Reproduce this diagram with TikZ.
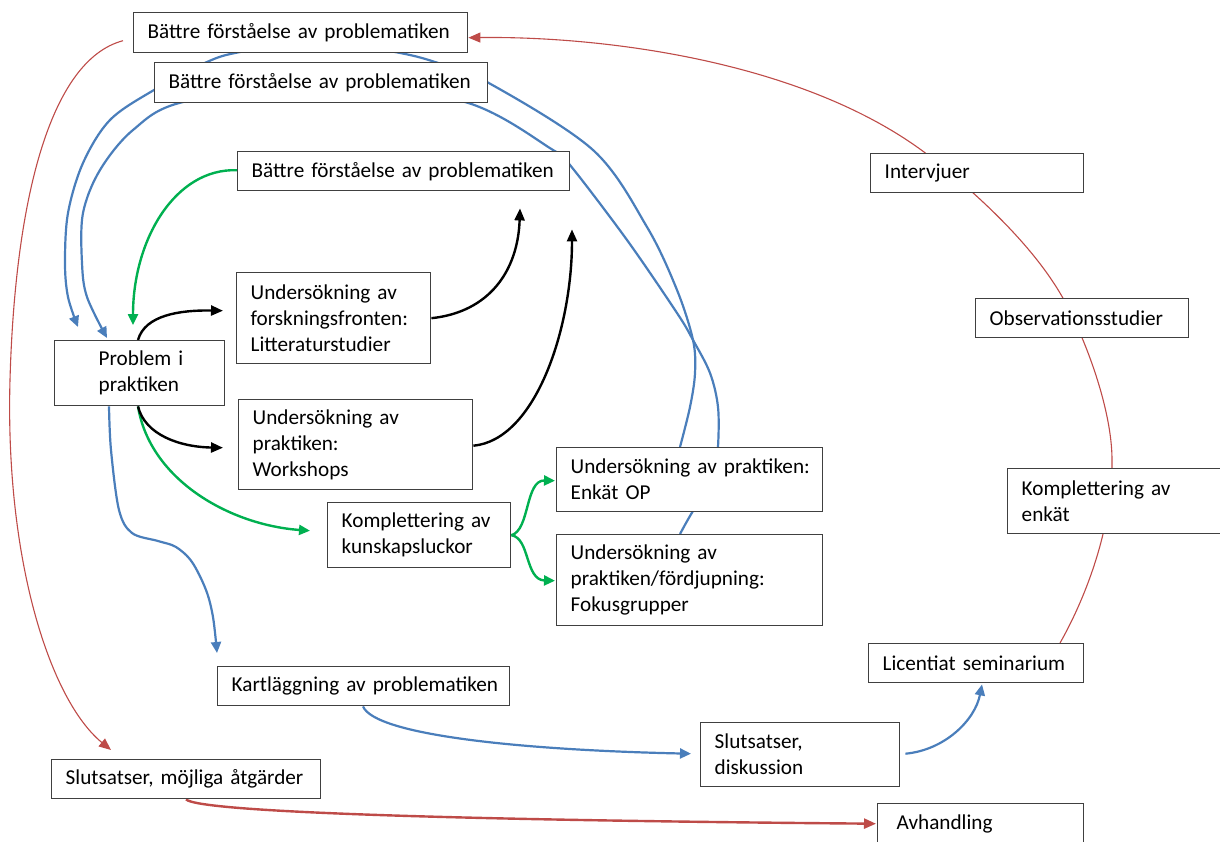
\documentclass[tikz,border=0pt]{standalone}
\usepackage{fontspec}
\setmainfont{Carlito}
\usetikzlibrary{arrows.meta,calc}
\definecolor{flowblue}{RGB}{74,126,187}
\definecolor{flowred}{RGB}{190,75,72}
\definecolor{flowgreen}{RGB}{0,176,80}
\definecolor{boxline}{RGB}{64,64,64}
\pgfdeclarelayer{bg}
\pgfsetlayers{bg,main}
\hyphenpenalty=10000
\exhyphenpenalty=10000
\begin{document}
\begin{tikzpicture}[x=1pt,y=-1pt,
  box/.style={draw=boxline, line width=1.4pt, fill=white, anchor=north west,
    inner ysep=0pt, inner xsep=14pt, align=left,
    font=\fontsize{21.2}{26}\selectfont},
  blueline/.style={draw=flowblue, line width=2.2pt, -{Triangle[length=11pt,width=10pt]}},
  greenline/.style={draw=flowgreen, line width=2.4pt, -{Triangle[length=11pt,width=10pt]}},
  blackline/.style={draw=black, line width=2.4pt, -{Triangle[length=12pt,width=10pt]}},
  redthin/.style={draw=flowred, line width=1.1pt, -{Triangle[length=12pt,width=10pt]}},
  redthick/.style={draw=flowred, line width=2.4pt, -{Triangle[length=12pt,width=10pt]}}]
\useasboundingbox (0,0) rectangle (1220,841);

% boxes
\node[box, minimum width=334pt, minimum height=40pt, text width=306pt] (b1) at (133,12) {Bättre~förståelse~av~problematiken};
\node[box, minimum width=333pt, minimum height=40pt, text width=305pt] (b2) at (154,62) {Bättre~förståelse~av~problematiken};
\node[box, minimum width=332pt, minimum height=39pt, text width=304pt] (b3) at (237,151) {Bättre~förståelse~av~problematiken};
\node[box, minimum width=213pt, minimum height=39pt, text width=185pt] (intv) at (870,153) {Intervjuer};
\node[box, minimum width=213pt, minimum height=39pt, text width=185pt] (obs) at (975,298) {Observationsstudier};
\node[box, minimum width=194pt, minimum height=91pt, text width=166pt] (u1) at (236,272) {Undersökning~av\\forskningsfronten:\\Litteraturstudier};
\node[box, minimum width=170pt, minimum height=65pt, text width=82pt, inner xsep=44pt] (prob) at (54,340) {Problem~i\\praktiken};
\node[box, minimum width=234pt, minimum height=90pt, text width=206pt] (u2) at (238,399) {Undersökning~av\\praktiken:\\Workshops};
\node[box, minimum width=183pt, minimum height=65pt, text width=155pt] (kkl) at (327,502) {Komplettering~av\\kunskapsluckor};
\node[box, minimum width=266pt, minimum height=64pt, text width=238pt] (enk) at (556,447) {Undersökning~av~praktiken:\\Enkät~OP};
\node[box, minimum width=266pt, minimum height=91pt, text width=238pt] (fok) at (556,534) {Undersökning~av\\praktiken/fördjupning:\\Fokusgrupper};
\node[box, minimum width=218pt, minimum height=65pt, text width=190pt] (kenk) at (1007,468) {Komplettering~av\\enkät};
\node[box, minimum width=215pt, minimum height=39pt, text width=187pt] (lic) at (868,643) {Licentiat~seminarium};
\node[box, minimum width=292pt, minimum height=39pt, text width=264pt] (kart) at (217,666) {Kartläggning~av~problematiken};
\node[box, minimum width=199pt, minimum height=64pt, text width=171pt] (sd) at (700,722) {Slutsatser,\\diskussion};
\node[box, minimum width=269pt, minimum height=39pt, text width=241pt] (sm) at (51,759) {Slutsatser,~möjliga~åtgärder};
\node[box, minimum width=206pt, minimum height=40pt, text width=168pt, inner xsep=19pt] (avh) at (877,803) {Avhandling};

\begin{pgfonlayer}{bg}
% blue loops from the survey boxes back to the problem box
\draw[blueline] plot[smooth, tension=0.55] coordinates {
  ($(enk.north west)+(124,0)$) (690,407) (695,373) (693,340) (677,290) (647,227)
  (593,150) (487,82) (435,62) (395,52) (317,40) (240,52) (207,62) (154,90)
  (110,120) (83,163) (68,213) (65,263) (68,297) ($(prob.north west)+(24,-13)$)};
\draw[blueline] plot[smooth, tension=0.55] coordinates {
  ($(fok.north west)+(124,0)$) (693,511) (714,480) (718,447) (718,407) (710,373)
  (693,340) (677,313) (627,240) (570,165) (553,150) (465,102) (320,84) (183,102)
  (133,130) (100,170) (83,213) (82,263) (87,297) ($(prob.north west)+(53,-2)$)};
% blue main line
\draw[blueline] plot[smooth, tension=0.55] coordinates {
  ($(prob.south west)+(55,0)$) (111,450) (119,510) (132,533) (158,541) (176,547)
  (192,562) (206,590) (213,617) ($(kart.north west)+(0,-13)$)};
\draw[blueline] ($(kart.south west)+(146,0)$) .. controls (375,735) and (520,750) .. ($(sd.west)+(-9,-1)$);
\draw[blueline] ($(sd.east)+(5,-1)$) .. controls (945,750) and (975,720) .. ($(lic.south west)+(114,1)$);

% red lines
\draw[redthin] ($(b1.west)+(-10,8)$) .. controls (50,60) and (15,200) .. (10,380)
  .. controls (5,560) and (50,700) .. ($(sm.north west)+(60,-9)$);
\draw[redthin] ($(lic.north west)+(192,0)$) .. controls (1090,590) and (1113,520) .. (1112,460)
  .. controls (1112,410) and (1086,340) .. (1064,300)
  .. controls (1031,240) and (964,183) .. (924,152)
  .. controls (800,60) and (600,36) .. ($(b1.east)+(0,5)$);
\draw[redthick] ($(sm.south west)+(135,0)$) .. controls (200,812) and (450,820) .. ($(avh.west)+(-1,0)$);

% green lines
\draw[greenline] ($(b3.west)+(0,-1)$) .. controls (175,168) and (133,240) .. ($(prob.north west)+(79,-15)$);
\draw[greenline] ($(prob.south west)+(84,0)$) .. controls (150,480) and (230,525) .. ($(kkl.west)+(-17,-4.5)$);
\draw[greenline] (kkl.east) .. controls (530,530) and (525,480) .. ($(enk.west)+(-1,1)$);
\draw[greenline] (kkl.east) .. controls (530,538) and (525,580) .. ($(fok.west)+(-1,0.5)$);

% black lines
\draw[blackline] ($(prob.north west)+(84,0)$) .. controls (145,315) and (180,310) .. ($(u1.west)+(-13,-7.5)$);
\draw[blackline] ($(prob.south west)+(84,0)$) .. controls (145,435) and (180,447) .. ($(u2.west)+(-15,3)$);
\draw[blackline] (u1.east) .. controls (490,312) and (518,270) .. ($(b3.south west)+(283,17)$);
\draw[blackline] ($(u2.east)+(0,1)$) .. controls (535,440) and (572,330) .. ($(b3.south west)+(335,38)$);
\end{pgfonlayer}
\end{tikzpicture}
\end{document}
